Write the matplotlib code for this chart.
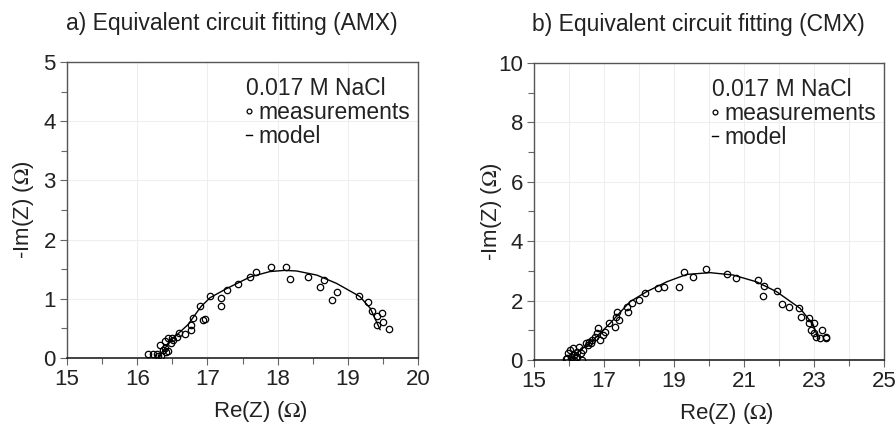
import matplotlib

matplotlib.use("Agg")
import matplotlib.pyplot as plt
from matplotlib.ticker import MultipleLocator

plt.rcParams["font.family"] = ["Liberation Sans", "DejaVu Sans"]
plt.rcParams["mathtext.fontset"] = "stix"

# a) AMX: measured points and fitted model
amx_re = [16.16, 16.23, 16.28, 16.30, 16.33, 16.34, 16.37, 16.39, 16.40, 16.41,
          16.44, 16.44, 16.48, 16.49, 16.51, 16.56, 16.60, 16.68, 16.76, 16.77,
          16.80, 16.89, 16.94, 16.97, 17.03, 17.20, 17.20, 17.28, 17.43, 17.60,
          17.69, 17.91, 18.12, 18.17, 18.44, 18.61, 18.66, 18.77, 18.84, 19.16,
          19.29, 19.35, 19.42, 19.49, 19.42, 19.50, 19.59]
amx_im = [0.06, 0.06, 0.07, 0.03, 0.22, 0.04, 0.14, 0.17, 0.28, 0.10,
          0.34, 0.11, 0.25, 0.34, 0.31, 0.35, 0.42, 0.40, 0.48, 0.56,
          0.67, 0.87, 0.65, 0.66, 1.04, 1.01, 0.87, 1.15, 1.25, 1.37,
          1.46, 1.54, 1.54, 1.33, 1.37, 1.20, 1.31, 0.98, 1.11, 1.04,
          0.94, 0.79, 0.71, 0.76, 0.56, 0.60, 0.49]
amx_fit_re = [16.30, 16.37, 16.51, 16.72, 16.91, 17.04, 17.27, 17.61, 17.89, 18.10,
              18.27, 18.56, 18.84, 19.17, 19.32, 19.46]
amx_fit_im = [0.00, 0.13, 0.33, 0.56, 0.87, 1.02, 1.17, 1.37, 1.46, 1.48,
              1.47, 1.40, 1.26, 1.04, 0.84, 0.48]

# b) CMX: measured points and fitted model
cmx_re = [15.91, 15.95, 15.98, 16.02, 16.05, 16.10, 16.15, 16.15, 16.19, 16.24,
          16.24, 16.29, 16.34, 16.38, 16.40, 16.48, 16.53, 16.57, 16.62, 16.67,
          16.75, 16.81, 16.84, 16.88, 16.96, 17.03, 17.15, 17.32, 17.34, 17.36,
          17.43, 17.67, 17.69, 17.80, 18.01, 18.18, 18.55, 18.72, 19.15, 19.28,
          19.55, 19.91, 20.50, 20.77, 21.39, 21.54, 21.58, 21.95, 22.08, 22.28,
          22.57, 22.63, 22.85, 22.85, 23.00, 22.92, 23.00, 23.06, 23.16, 23.23,
          23.33, 23.35]
cmx_im = [0.02, 0.06, 0.22, 0.34, 0.11, 0.39, 0.17, 0.00, 0.06, 0.28,
          0.11, 0.45, 0.22, 0.00, 0.34, 0.56, 0.50, 0.62, 0.56, 0.67,
          0.78, 0.90, 1.07, 0.67, 0.84, 0.95, 1.23, 1.12, 1.46, 1.63,
          1.35, 1.79, 1.63, 1.91, 2.02, 2.24, 2.41, 2.44, 2.44, 2.97,
          2.80, 3.05, 2.89, 2.75, 2.69, 2.16, 2.50, 2.32, 1.88, 1.77,
          1.74, 1.43, 1.40, 1.23, 1.23, 1.01, 0.90, 0.78, 0.73, 1.01,
          0.78, 0.73]
cmx_fit_re = [15.95, 16.03, 16.69, 17.17, 17.74, 18.22, 18.79, 19.36, 20.03, 20.69,
              21.36, 21.93, 22.60, 22.98, 23.12]
cmx_fit_im = [0.00, 0.06, 0.67, 1.23, 1.96, 2.30, 2.63, 2.88, 2.94, 2.86,
              2.63, 2.30, 1.74, 1.18, 0.73]

# title, data, limits, (major step, offset), minor step, y major, y minor, axes rect
panels = [
    ("a) Equivalent circuit fitting (AMX)", amx_re, amx_im, amx_fit_re, amx_fit_im,
     (15, 20), (0, 5), (1, 0), 0.5, 1, 0.5, [0.0748, 0.1655, 0.3917, 0.690]),
    ("b) Equivalent circuit fitting (CMX)", cmx_re, cmx_im, cmx_fit_re, cmx_fit_im,
     (15, 25), (0, 10), (2, 1), 1, 2, 1, [0.596, 0.161, 0.3906, 0.692]),
]

TEXT = "#222222"
GRID = "#eeeeee"

fig = plt.figure(figsize=(8.96, 4.29), dpi=100)

for title, re, im, fit_re, fit_im, xlim, ylim, xmaj, xmin, ymaj, ymin, pos in panels:
    ax = fig.add_axes(pos)
    ax.plot(re, im, "o", ms=4.6, mfc="none", mec="black", mew=0.9,
            label="measurements", zorder=3)
    ax.plot(fit_re, fit_im, "-", color="black", lw=1.0, label="model", zorder=2)

    ax.set_xlim(*xlim)
    ax.set_ylim(*ylim)
    ax.xaxis.set_major_locator(MultipleLocator(xmaj[0], offset=xmaj[1]))
    ax.xaxis.set_minor_locator(MultipleLocator(xmin))
    ax.yaxis.set_major_locator(MultipleLocator(ymaj))
    ax.yaxis.set_minor_locator(MultipleLocator(ymin))
    ax.tick_params(which="both", direction="out", color="#666666", width=0.8,
                   labelsize=16, labelcolor=TEXT, pad=3)
    ax.tick_params(which="major", length=5)
    ax.tick_params(which="minor", length=4)
    ax.grid(which="major", axis="y", color=GRID, lw=0.8)
    # vertical grid at every whole ohm
    ax.grid(which="major" if xmaj[0] == 1 else "both", axis="x", color=GRID, lw=0.8)
    ax.set_axisbelow(True)

    for side in ("top", "right", "left"):
        ax.spines[side].set_color("#555555")
        ax.spines[side].set_linewidth(1.0)
    ax.spines["bottom"].set_color(TEXT)
    ax.spines["bottom"].set_linewidth(1.2)

    ax.set_title(title, fontsize=16.5, color=TEXT, x=0.47, pad=23)
    ax.set_xlabel(r"Re(Z) ($\Omega$)", fontsize=16, color=TEXT)
    ax.set_ylabel(r"-Im(Z) ($\Omega$)", fontsize=16, color=TEXT)
    ax.xaxis.set_label_coords(0.55, -0.14)
    ax.yaxis.set_label_coords(-0.087, 0.5)

    leg = ax.legend(title="0.017 M NaCl", loc="upper right",
                    bbox_to_anchor=(0.977, 0.95), frameon=False, fontsize=16.5,
                    title_fontsize=16.5, alignment="left", handlelength=0.3,
                    handletextpad=0.25, labelspacing=0.05, borderpad=0,
                    borderaxespad=0, markerscale=0.75)
    plt.setp(leg.get_texts(), color=TEXT)
    leg.get_title().set_color(TEXT)

fig.savefig("out.png", dpi=100)
